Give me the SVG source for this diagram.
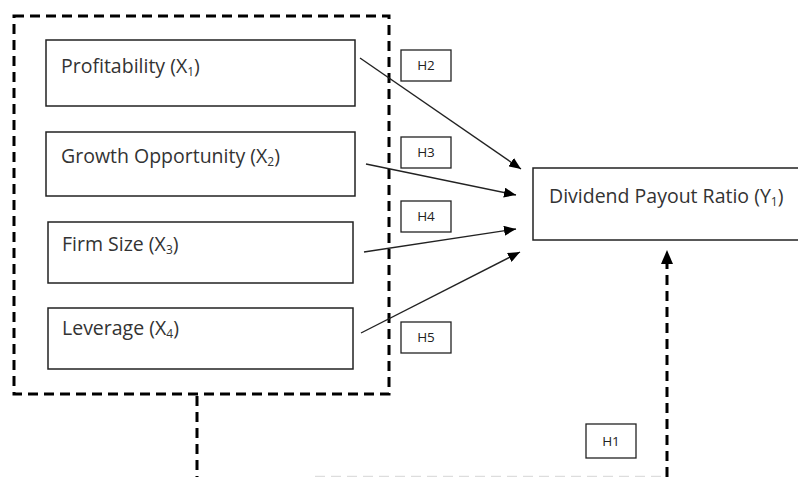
<svg xmlns="http://www.w3.org/2000/svg" width="798" height="477" viewBox="0 0 798 477">
<defs>
<marker id="ah" markerWidth="12" markerHeight="10" refX="12" refY="5" orient="auto" markerUnits="userSpaceOnUse">
<path d="M0,0 L12,5 L0,10 Z" fill="#000"/>
</marker>
<style>
.box{fill:#fff;stroke:#222;stroke-width:1.5}
.hb{fill:#fff;stroke:#222;stroke-width:1.3}
.t{font-family:"Open Sans","Liberation Sans",sans-serif;font-size:19.5px;fill:#333}
.h{font-family:"Open Sans","Liberation Sans",sans-serif;font-size:13.5px;fill:#222;text-anchor:middle}
.sub{font-size:12px}
.dash{fill:none;stroke:#000;stroke-width:3;stroke-dasharray:10 6}
.ln{stroke:#222;stroke-width:1.4;fill:none}
</style>
</defs>
<rect width="798" height="477" fill="#fff"/>
<g id="group">
<rect class="dash" x="14" y="16" width="375" height="378"/>
</g>
<g id="connectors">
<line class="ln" x1="360" y1="58" x2="521" y2="169" marker-end="url(#ah)"/>
<line class="ln" x1="366" y1="164" x2="516" y2="195" marker-end="url(#ah)"/>
<line class="ln" x1="364" y1="252" x2="516" y2="229" marker-end="url(#ah)"/>
<line class="ln" x1="361" y1="333" x2="520" y2="252" marker-end="url(#ah)"/>
<line class="dash" x1="197" y1="396" x2="197" y2="477"/>
<line class="dash" x1="667" y1="477" x2="667" y2="262"/>
<path d="M661,264 L667,250 L673,264 Z" fill="#000"/>
<line x1="315" y1="476.5" x2="665" y2="476.5" stroke="#ddd" stroke-width="1.5" stroke-dasharray="10 6"/>
</g>
<g id="profitability">
<rect class="box" x="46" y="40" width="309" height="66"/>
<text class="t" x="61" y="73">Profitability (X<tspan class="sub" dy="3">1</tspan><tspan dy="-3">)</tspan></text>
</g>
<g id="growth">
<rect class="box" x="46" y="132" width="309" height="64"/>
<text class="t" x="61" y="163">Growth Opportunity (X<tspan class="sub" dy="3">2</tspan><tspan dy="-3">)</tspan></text>
</g>
<g id="firmsize">
<rect class="box" x="48" y="222" width="305" height="61"/>
<text class="t" x="62" y="251">Firm Size (X<tspan class="sub" dy="3">3</tspan><tspan dy="-3">)</tspan></text>
</g>
<g id="leverage">
<rect class="box" x="48" y="308" width="305" height="61"/>
<text class="t" x="62" y="335">Leverage (X<tspan class="sub" dy="3">4</tspan><tspan dy="-3">)</tspan></text>
</g>
<g id="dpr">
<rect class="box" x="533" y="168" width="270" height="72"/>
<text class="t" x="549" y="203">Dividend Payout Ratio (Y<tspan class="sub" dy="3">1</tspan><tspan dy="-3">)</tspan></text>
</g>
<g id="h2"><rect class="hb" x="401" y="50" width="50" height="31"/><text class="h" x="426" y="70">H2</text></g>
<g id="h3"><rect class="hb" x="401" y="137" width="50" height="31"/><text class="h" x="426" y="157">H3</text></g>
<g id="h4"><rect class="hb" x="401" y="201" width="50" height="31"/><text class="h" x="426" y="221">H4</text></g>
<g id="h5"><rect class="hb" x="401" y="322" width="50" height="31"/><text class="h" x="426" y="342">H5</text></g>
<g id="h1"><rect class="hb" x="586" y="424" width="50" height="34"/><text class="h" x="611" y="446">H1</text></g>
</svg>
